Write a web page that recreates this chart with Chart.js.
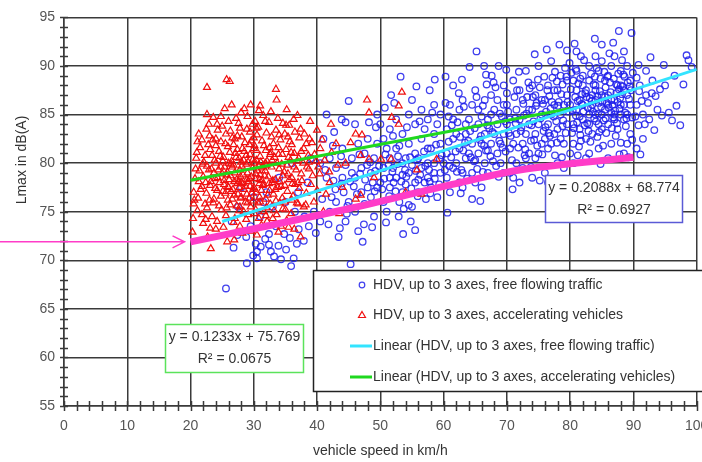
<!DOCTYPE html>
<html>
<head>
<meta charset="utf-8">
<script src="https://cdn.jsdelivr.net/npm/chart.js@4.4.0/dist/chart.umd.min.js"></script>
<style>
  html, body { margin: 0; padding: 0; background: #fff; }
  canvas { display: block; }
</style>
</head>
<body>
<canvas id="lmaxChart" width="702" height="462"></canvas>
<script>
// ---------------------------------------------------------------------------
// Data (speed km/h, Lmax dB(A))
// ---------------------------------------------------------------------------
const freeFlowLabel = 'HDV, up to 3 axes, free flowing traffic';
const accelLabel = 'HDV, up to 3 axes, accelerating vehicles';
const freeFlowTrendLabel = 'Linear (HDV, up to 3 axes, free flowing traffic)';
const accelTrendLabel = 'Linear (HDV, up to 3 axes, accelerating vehicles)';

const xTicksMajor = [0, 10, 20, 30, 40, 50, 60, 70, 80, 90, 100];
const yTicksMajor = [55, 60, 65, 70, 75, 80, 85, 90, 95];

// blue circles
const freeFlowPoints = [
  [25.6,67.1],[28.9,69.7],[30.5,70.2],[30.5,70.9],[31.1,71.4],[30.3,71.7],[28.8,72.4],[32.4,71.6],[32.7,70.9],
  [33.2,70.4],[35.1,71.1],[35.9,69.4],[36.8,71.7],[37.1,73.2],[34.8,72.7],[32.4,72.7],[29.5,73.5],[31.0,74.5],
  [33.0,75.5],[35.0,76.0],[37.0,77.0],[38.5,78.0],[34.0,78.5],[36.0,80.0],[30.0,76.5],[27.5,75.5],[32.0,77.0],
  [38.0,74.5],[39.5,75.0],[39.0,80.5],[36.5,75.0],[26.5,74.0],[28.0,77.5],[33.5,73.5],[31.5,76.0],
  [26.8,71.3],[27.4,72.6],[29.9,70.5],[31.8,72.2],[33.9,71.5],[35.7,72.3],[37.9,72.0],[38.7,73.5],[39.8,72.8],
  [36.3,70.2],[34.3,70.1],
  [43.4,72.4],[44.5,74.0],[44.7,74.8],[40.8,76.3],[42.3,76.5],[42.9,77.3],[44.2,77.0],[43.9,77.9],[45.3,69.6],
  [47.4,73.7],[45.0,86.4],[43.9,84.5],[44.5,84.2],[48.2,84.2],[49.3,83.7],[42.7,83.2],[41.5,78.5],
  [40.5,80.0],[42.0,80.5],[43.0,79.5],[44.0,81.5],[45.5,80.5],[46.0,78.5],[47.0,79.5],[48.0,77.5],[49.0,80.5],
  [46.5,82.0],[47.5,81.0],[48.5,79.0],[49.5,82.0],[41.0,82.5],[45.0,76.0],[46.0,75.0],[47.5,75.8],[48.5,76.5],
  [49.5,77.5],[40.5,74.0],[42.0,75.0],[43.0,76.0],[46.5,73.0],[49.0,74.5],[44.0,78.5],[45.5,79.0],[47.0,77.0],
  [48.0,82.5],[49.5,85.0],[41.5,85.0],[44.5,79.8],[42.5,81.8],[46.0,84.0],[48.8,78.0],
  [41.3,79.3],[42.6,78.2],[43.8,80.7],[45.2,78.1],[46.7,80.9],[47.9,79.8],[49.2,79.2],[46.3,76.8],[44.8,75.6],
  [43.6,73.3],[48.7,73.4],[41.8,73.7],[47.2,71.9],
  [45.8,77.6],[46.8,78.9],[47.6,78.3],[48.4,80.1],[49.1,77.1],[49.8,79.7],
  [51.7,87.0],[52.9,74.5],[54.8,74.0],[54.5,75.7],[57.2,76.3],[50.5,76.0],[51.5,77.5],[52.5,78.5],[53.5,77.0],
  [54.5,79.0],[55.5,78.0],[56.5,79.5],[57.5,78.5],[58.5,80.0],[59.5,79.0],[50.5,79.5],[51.5,80.5],[52.5,81.5],
  [53.5,80.0],[54.5,82.0],[55.5,81.0],[56.5,82.5],[57.5,81.5],[58.5,83.0],[59.5,82.0],[50.5,82.5],[51.5,83.5],
  [52.5,84.5],[53.5,83.0],[54.5,85.0],[55.5,84.0],[56.5,85.5],[57.5,84.5],[58.5,86.0],[59.5,85.0],[50.0,84.0],
  [55.0,86.5],[56.0,77.0],[58.0,77.5],[59.0,76.5],[51.0,75.0],[53.0,76.0],[55.0,75.5],[57.0,78.0],[52.0,79.5],
  [54.0,80.5],[56.0,80.5],[58.0,81.5],[53.0,81.8],[55.0,79.8],[57.0,83.5],[59.0,84.0],[50.0,78.0],[51.0,81.5],
  [52.0,82.8],[57.8,87.5],[60.3,86.2],[53.5,78.8],[56.0,78.3],[58.5,79.0],[54.0,77.8],[51.5,78.5],[57.5,80.0],
  [50.8,80.9],[51.9,79.1],[52.8,80.7],[53.9,79.3],[54.7,80.6],[55.8,80.3],[56.9,81.2],[57.7,79.3],[58.8,81.9],
  [59.7,80.8],[50.3,77.3],[51.4,76.6],[52.4,77.1],[53.7,75.3],[55.9,76.6],[57.9,76.9],[59.3,77.8],[50.9,73.9],
  [55.5,73.1],[53.6,72.7],[60.6,74.9],[52.2,86.2],[54.2,83.7],[56.2,84.3],[58.2,85.2],[60.8,84.8],[50.7,85.7],
  [53.2,88.9],[55.7,87.9],[58.6,88.6],
  [50.6,78.4],[51.3,79.8],[52.1,78.0],[52.7,79.9],[53.3,78.1],[54.1,78.6],[54.9,77.4],[55.6,79.2],[56.3,78.8],
  [57.1,79.7],[57.8,78.1],[58.6,78.4],[59.4,80.4],
  [62.4,87.2],[65.2,91.5],[66.4,90.0],[68.7,90.0],[66.7,89.1],[67.6,89.0],[66.8,88.1],[64.5,76.3],[60.5,78.5],
  [61.5,79.5],[62.5,78.0],[63.5,80.5],[64.5,79.0],[65.5,81.0],[66.5,80.0],[67.5,82.0],[68.5,81.0],[69.5,83.0],
  [60.5,81.0],[61.5,82.5],[62.5,81.5],[63.5,83.0],[64.5,82.0],[65.5,84.0],[66.5,83.0],[67.5,85.0],[68.5,84.0],
  [69.5,86.0],[60.5,83.5],[61.5,84.5],[62.5,85.5],[63.5,84.0],[64.5,86.0],[65.5,85.5],[66.5,86.5],[67.5,87.0],
  [68.5,86.5],[69.5,88.0],[61.0,77.0],[63.0,77.5],[65.0,78.0],[67.0,79.0],[69.0,80.0],[62.0,80.0],[64.0,81.0],
  [66.0,82.0],[68.0,83.0],[70.0,84.0],[61.0,86.0],[63.0,86.5],[65.0,87.5],[67.0,84.5],[69.0,82.0],[60.0,80.0],
  [62.0,83.0],[64.0,84.5],[66.0,84.8],[68.0,85.5],[69.5,79.0],[63.0,79.0],[65.0,80.3],[67.0,81.3],[61.5,88.0],
  [66.0,77.5],
  [60.9,79.7],[61.9,81.2],[62.8,79.3],[63.9,82.3],[64.8,80.2],[65.9,82.8],[66.7,81.3],[67.8,80.2],[68.8,82.3],
  [69.8,81.2],[60.8,82.2],[62.2,84.2],[63.2,85.8],[64.2,83.3],[65.2,86.8],[66.2,85.9],[67.2,83.6],[68.2,87.8],
  [69.2,84.8],[67.9,88.3],[69.9,89.6],[62.9,88.6],[64.1,89.9],[60.3,88.9],[63.7,78.4],[68.7,78.6],[66.2,79.1],
  [62.7,76.9],[65.8,76.1],
  [60.2,79.3],[61.2,80.6],[62.1,79.1],[63.1,81.3],[64.3,80.6],[65.3,79.4],[66.4,81.8],[67.4,80.7],[68.3,79.7],
  [69.3,81.6],[62.6,82.7],[64.9,83.6],[66.9,83.9],[68.9,85.1],[61.3,83.9],[63.4,82.1],[65.7,82.4],[67.7,83.2],
  [69.7,84.3],
  [71.6,87.5],[70.0,87.2],[79.5,91.6],[78.7,80.6],[70.5,81.5],[71.5,83.0],[72.5,82.0],[73.5,84.0],[74.5,83.0],
  [75.5,85.0],[76.5,84.0],[77.5,86.0],[78.5,85.0],[79.5,87.0],[70.5,84.5],[71.5,85.5],[72.5,86.5],[73.5,85.5],
  [74.5,87.0],[75.5,86.5],[76.5,88.0],[77.5,87.5],[78.5,89.0],[79.5,88.5],[70.5,79.0],[71.5,80.0],[72.5,79.5],
  [73.5,81.0],[74.5,80.5],[75.5,82.0],[76.5,81.5],[77.5,83.0],[78.5,82.5],[79.5,84.0],[71.0,88.5],[73.0,89.5],
  [75.0,90.0],[77.0,90.5],[72.0,78.0],[74.0,78.5],[76.0,79.0],[78.0,80.0],[80.0,81.0],[71.0,82.0],[73.0,83.0],
  [75.0,84.0],[77.0,85.0],[79.0,86.0],[72.0,84.5],[74.0,85.5],[76.0,86.5],[78.0,87.5],[70.0,86.0],[72.0,87.5],
  [74.0,88.0],[76.0,82.5],[78.0,83.5],[79.0,82.0],[77.0,82.0],[75.0,81.0],[73.0,80.5],[71.0,78.5],[76.5,78.0],
  [79.0,79.5],
  [70.8,80.3],[71.8,81.6],[72.8,80.8],[73.8,82.3],[74.8,81.8],[75.8,83.3],[76.8,82.8],[77.8,84.3],[78.8,83.8],
  [79.8,85.3],[70.2,85.3],[71.2,86.8],[72.2,83.3],[73.2,86.8],[74.2,84.3],[75.2,87.8],[76.2,85.3],[77.2,88.8],
  [78.2,86.3],[79.2,89.8],[70.6,82.8],[72.7,84.9],[74.7,86.2],[76.7,86.9],[78.8,88.1],[71.9,89.4],[73.6,87.7],
  [75.9,88.9],[77.6,89.4],[79.9,90.3],[74.4,91.2],[76.3,91.7],[78.3,92.2],[73.8,79.6],[77.6,80.8],[70.9,77.3],
  [75.2,78.2],
  [70.3,83.1],[71.3,84.6],[72.3,83.7],[73.1,85.1],[73.9,83.9],[74.6,85.9],[75.3,84.6],[76.1,83.7],[76.9,85.6],
  [77.4,84.8],[78.1,85.9],[78.9,84.4],[79.6,86.3],[72.6,86.1],[73.4,88.3],[74.1,86.8],[74.9,88.6],[75.7,86.1],
  [76.4,87.5],[77.1,86.3],[77.9,88.4],[78.6,87.1],[79.4,88.9],[71.4,84.1],[72.9,81.4],[74.3,82.4],[75.6,80.9],
  [76.6,83.1],[77.9,82.1],[79.3,83.1],
  [85.0,92.2],[81.7,91.0],[87.7,93.6],[89.7,93.4],[90.8,90.1],[81.7,82.3],[88.0,82.1],[80.5,84.0],[81.0,85.5],
  [81.5,86.5],[82.0,84.5],[82.5,87.5],[83.0,85.0],[83.5,86.0],[84.0,88.0],[84.5,84.0],[85.0,87.0],[85.5,85.5],
  [86.0,89.0],[86.5,86.5],[87.0,84.5],[87.5,88.0],[88.0,86.0],[88.5,87.5],[89.0,85.0],[89.5,88.5],[80.5,88.5],
  [81.0,87.5],[81.5,83.5],[82.0,89.0],[82.5,82.5],[83.0,88.5],[83.5,83.0],[84.0,86.5],[84.5,89.5],[85.0,83.5],
  [85.5,88.5],[86.0,84.0],[86.5,90.0],[87.0,86.5],[87.5,83.5],[88.0,89.5],[88.5,84.5],[89.0,87.0],[89.5,83.0],
  [80.0,86.0],[81.0,89.5],[82.0,86.0],[83.0,90.0],[84.0,85.0],[85.0,90.5],[86.0,87.0],[87.0,91.0],[88.0,88.0],
  [89.0,90.0],[80.5,82.0],[82.5,80.5],[84.5,81.5],[86.5,82.0],[88.5,81.0],[83.0,84.0],[85.0,85.0],[87.0,85.0],
  [84.0,87.5],[86.0,86.0],[88.0,85.0],[82.0,88.0],[83.5,87.0],[85.5,86.8],[87.5,86.3],[89.5,86.0],[81.5,84.8],
  [84.5,86.2],[86.5,85.2],[88.5,86.0],[80.5,80.0],[83.0,81.0],[86.0,80.5],[89.0,82.0],[81.0,91.5],[84.0,91.0],
  [88.5,91.5],
  [80.3,83.1],[80.9,84.9],[81.3,88.2],[81.8,86.1],[82.3,83.9],[82.8,85.7],[83.3,89.2],[83.8,84.6],[84.3,86.9],
  [84.8,88.7],[85.3,84.4],[85.8,86.2],[86.3,88.3],[86.8,84.7],[87.3,87.2],[87.8,85.6],[88.3,87.9],[88.8,83.8],
  [89.3,86.6],[89.8,84.7],[80.8,86.8],[81.6,82.9],[82.6,86.8],[83.6,85.3],[84.6,83.2],[85.6,87.8],[86.6,83.6],
  [87.6,89.2],[88.6,88.9],[89.6,87.5],[80.2,89.3],[82.2,90.6],[84.2,89.8],[86.2,91.3],[88.2,90.6],[83.2,82.2],
  [85.2,81.8],[87.2,82.8],[81.2,80.8],[84.8,79.9],[87.8,80.9],[89.2,80.6],[86.8,92.4],[83.9,92.8],[80.7,92.3],
  [80.4,85.4],[81.1,84.2],[81.9,87.1],[82.7,84.1],[83.4,86.4],[84.1,84.3],[84.9,85.8],[85.6,84.6],[86.4,87.3],
  [87.1,85.4],[87.9,86.7],[88.7,85.2],[89.4,87.9],[80.1,87.6],[80.9,89.7],[81.6,88.7],[82.4,87.2],[83.1,86.7],
  [83.9,88.9],[84.7,87.4],[85.4,89.4],[86.1,85.7],[86.9,88.7],[87.7,87.6],[88.4,89.1],[89.1,88.3],[89.9,89.3],
  [80.6,83.6],[81.4,81.7],[82.9,83.3],[84.3,82.7],[85.7,83.1],[87.4,84.1],[88.9,84.6],[89.8,82.4],[85.1,86.3],
  [83.3,85.7],[81.2,86.4],[86.7,86.0],[88.2,87.1],[84.4,85.1],[82.1,85.3],[87.3,88.1],[85.9,88.9],[83.7,88.1],
  [98.4,91.1],[98.7,90.6],[97.9,88.1],[94.8,90.1],[95.6,85.2],[96.1,84.4],[94.5,84.9],[91.3,86.4],[92.9,87.2],
  [93.5,86.9],[90.8,83.9],[90.5,86.0],[91.0,88.0],[91.5,85.0],[92.0,89.5],[92.5,84.5],[93.0,88.5],[91.5,82.5],
  [90.5,81.5],[95.0,88.0],[96.5,89.0],[92.0,87.0],[90.5,88.8],[93.8,85.5],[90.3,84.8],[91.8,84.0],[92.3,86.2],
  [93.3,83.4],[90.9,87.4],[94.2,87.6],[96.8,85.9],[97.4,83.9],[99.2,89.9],[92.7,90.9],[91.1,80.9]
];

// red triangles
const accelPoints = [
  [25.7,88.6],[26.2,88.4],[22.6,87.8],[33.5,87.6],[33.6,86.5],[26.5,86.0],[29.5,86.0],[35.2,85.5],[30.8,85.4],
  [28.0,85.2],[22.6,85.0],[22.9,84.0],[24.2,84.0],[35.1,83.9],[37.4,83.5],[40.0,83.4],[42.2,84.0],[21.3,83.0],
  [25.6,83.0],[39.2,82.1],[42.3,81.1],[38.7,80.1],[21.0,81.1],[20.8,79.4],
  [27.2,84.6],[29.0,84.8],[30.2,84.3],[31.5,84.9],[32.4,84.2],[33.8,84.6],[36.3,84.5],[28.5,85.6],[31.0,85.9],
  [26.0,84.3],
  [21.8,82.4],[23.0,82.8],[24.8,82.2],[26.3,83.3],[27.0,82.5],[27.8,83.6],[28.6,82.1],[29.4,83.2],[30.0,82.6],
  [30.7,83.7],[31.3,82.3],[32.0,83.1],[32.8,82.7],[33.5,83.4],[34.2,82.4],[34.9,83.0],[35.7,82.2],[36.5,83.2],
  [37.2,82.6],[38.0,83.0],[38.8,82.5],[22.5,83.5],[25.5,82.0],[29.8,84.0],[24.0,82.5],
  [20.9,80.5],[21.5,81.6],[22.3,80.8],[23.1,81.4],[23.8,80.3],[24.5,81.2],[25.2,80.6],[25.9,81.7],[26.5,80.2],
  [27.1,81.0],[27.7,80.5],[28.2,81.5],[28.8,80.8],[29.3,81.9],[29.9,80.4],[30.4,81.3],[31.0,80.7],[31.6,81.8],
  [32.1,80.2],[32.7,81.1],[33.3,80.6],[33.9,81.6],[34.5,80.9],[35.1,81.4],[35.8,80.3],[36.4,81.0],[37.1,80.5],
  [37.9,81.5],[38.6,80.8],[39.6,80.9],[40.5,81.5],[41.2,80.3],[26.8,81.9],[28.0,80.1],[30.0,81.5],[31.8,80.0],
  [24.0,81.8],
  [20.7,78.4],[21.4,79.2],[22.0,78.6],[22.6,79.7],[23.2,78.1],[23.7,79.0],[24.3,78.5],[24.8,79.6],[25.3,78.2],
  [25.8,79.1],[26.3,78.7],[26.8,79.8],[27.3,78.3],[27.8,79.3],[28.3,78.8],[28.8,79.9],[29.3,78.4],[29.8,79.5],
  [30.3,78.9],[30.8,79.7],[31.3,78.2],[31.8,79.2],[32.3,78.6],[32.8,79.6],[33.4,78.3],[34.0,79.4],[34.6,78.7],
  [35.3,79.8],[36.0,78.5],[36.7,79.3],[37.5,78.9],[38.4,79.6],[39.3,78.7],[41.9,79.1],[38.7,79.4],[26.0,80.0],
  [28.0,78.0],[30.0,80.0],[24.0,80.0],[27.0,79.0],[29.0,79.0],[31.0,78.8],[25.0,78.9],
  [20.5,77.0],[21.2,76.4],[21.8,77.6],[22.5,76.9],[23.1,77.7],[23.7,76.3],[24.2,77.2],[24.8,76.6],[25.3,77.8],
  [25.9,76.2],[26.4,77.1],[26.9,76.7],[27.4,77.9],[27.9,76.4],[28.4,77.3],[28.9,76.8],[29.4,77.6],[29.9,76.1],
  [30.4,77.0],[30.9,76.5],[31.4,77.7],[31.9,76.3],[32.5,77.2],[33.1,76.8],[33.8,77.5],[34.5,76.4],[35.3,77.1],
  [36.2,76.6],[37.2,77.4],[38.3,76.9],[46.9,76.7],[46.1,76.3],[26.0,77.5],[28.0,76.5],[30.0,77.5],
  [20.5,75.8],[21.8,74.7],[22.6,75.4],[23.4,74.5],[24.2,74.0],[24.9,75.2],[25.6,74.6],[26.3,75.7],[27.0,74.3],
  [27.7,75.1],[28.8,74.2],[29.5,75.5],[30.8,74.3],[31.6,75.0],[32.6,75.8],[33.6,74.7],[34.6,75.3],[37.9,75.5],
  [38.2,75.7],
  [26.9,72.1],[23.2,71.2],[37.4,72.4],[24.0,73.2],[27.8,73.5],[29.6,73.0],[31.2,73.6],[35.5,73.4],[22.0,73.8],
  [24.4,79.3],[25.1,80.2],[25.7,78.8],[26.2,81.1],[26.6,79.6],[27.2,80.6],[27.6,78.1],[28.1,79.7],[28.5,81.2],
  [29.1,80.1],[29.6,78.6],[30.1,81.8],[30.6,79.2],[31.1,80.1],[31.5,77.8],[32.0,79.8],[32.6,80.9],[33.0,78.2],
  [33.7,80.0],[34.3,77.6],[34.8,79.1],[35.5,80.6],[36.1,77.9],[36.9,80.2],[23.3,79.4],[23.9,77.4],[24.6,78.0],
  [25.5,76.9],[26.1,78.3],[26.7,77.3],[27.5,76.8],[28.2,77.9],[28.7,76.0],[29.2,78.1],[29.7,76.9],[30.2,78.4],
  [30.7,75.9],[31.2,77.2],[31.7,78.7],[32.2,76.7],[32.9,78.0],[33.5,76.1],[34.1,78.1],[34.9,76.0],[35.6,78.3],
  [36.5,77.8],[37.6,78.2],[27.3,75.6],[28.4,75.0],[29.0,75.9],[30.3,75.2],[31.9,74.6],[33.2,75.1],[35.9,74.8],
  [26.8,73.9],[25.2,73.4],[28.2,72.8],[30.5,72.6],[33.9,72.9],[35.2,74.1],[36.8,75.9],
  [22.1,80.1],[22.8,81.9],[23.5,82.4],[24.3,83.4],[25.0,83.8],[27.4,82.8],[28.9,83.5],[30.5,82.9],[31.8,84.3],
  [32.5,81.6],[34.0,82.9],[35.4,82.7],[36.0,81.9],[37.5,81.2],[38.3,82.0],[39.9,80.2],[40.8,82.4],[23.6,84.7],
  [27.6,84.1],[29.6,82.3],[34.6,84.1],[36.9,84.9],[32.7,85.3],[25.4,85.6],[38.9,84.3],[21.6,77.3],[22.3,75.8],
  [23.0,76.2],[21.1,82.2],[20.6,76.2],[39.0,77.8],[40.4,78.9],[41.4,76.8],[43.3,79.8],[40.2,79.6],[20.3,72.9],
  [22.7,72.4],[25.8,71.9],[32.1,74.0],[34.3,73.5],[36.4,73.2],
  [24.7,80.7],[25.4,79.6],[25.9,77.6],[26.4,79.9],[26.9,78.1],[27.4,81.4],[27.9,78.6],[28.4,80.3],[28.9,78.3],
  [29.4,80.9],[29.9,77.3],[30.4,80.3],[30.9,78.3],[31.4,79.6],[31.9,81.3],[32.4,77.9],[32.9,80.3],[33.4,77.3],
  [33.9,80.9],[34.4,79.9],[34.9,77.7],[35.4,78.9],[35.9,81.1],[36.4,79.6],[37.0,78.0],[37.8,80.0],[23.4,80.8],
  [23.9,78.4],[22.4,78.0],[22.9,79.3],[21.9,79.9],[21.3,78.1],[23.6,75.9],[24.5,75.6],[25.7,75.4],[26.6,76.3],
  [27.8,75.5],[28.7,77.6],[29.3,76.4],[30.1,74.8],[31.0,76.0],[32.0,75.4],[33.0,74.3],[34.1,75.9],[35.0,75.2],
  [36.0,76.2],[37.0,75.8],[22.4,74.2],[23.1,73.3],[21.1,75.1],[20.4,74.3],[29.1,74.7],[30.9,77.9],[28.1,82.7],
  [26.6,82.6],[24.8,84.8],[30.4,83.6],[33.1,82.0],[35.6,83.9],[31.2,79.5],[27.7,77.5],[25.1,77.1],
  [53.4,87.3],[47.9,86.5],[52.9,85.9],[48.2,85.2],[51.8,84.7],[52.9,84.0],[46.1,83.0],[47.1,82.9],[45.3,82.1],
  [46.9,80.8],[48.2,80.4],[50.1,80.4],[51.7,80.4],[55.8,79.3],[58.9,80.4],[43.0,82.0],[44.5,80.0],[42.0,78.0],
  [40.0,77.2],[44.0,77.5],[49.0,78.5],[54.0,77.0],[56.5,76.8],[41.0,75.0],[43.5,74.8],[39.5,76.0]
];

// trend line end points (Excel linear fits shown in the boxes)
const freeFlowTrend = [[25, 73.99], [100, 89.65]];
const accelTrend = [[20, 78.24], [80, 85.63]];

// hand drawn magenta limit line
const limitLine = [[20, 71.9], [45, 75.3], [60, 77.6], [72, 79.3], [90, 80.6]];

const freeFlowEq = ['y = 0.2088x + 68.774', 'R\u00B2 = 0.6927'];
const accelEq = ['y = 0.1233x + 75.769', 'R\u00B2 = 0.0675'];

// ---------------------------------------------------------------------------
const toXY = arr => arr.map(p => ({ x: p[0], y: p[1] }));

const BLUE = 'rgba(30,30,235,0.85)';
const RED = '#f01010';
const CYAN = '#33e4ff';
const GREEN = '#1fd81f';
const MAGENTA = '#ff3cc8';
const GRID = '#3a3a3a';
const FONT = "'Liberation Sans', Arial, sans-serif";

// legend, equation boxes, arrow, crossing ticks
const decorations = {
  id: 'decorations',
  afterDraw(chart) {
    const ctx = chart.ctx;
    const xs = chart.scales.x;
    const ys = chart.scales.y;
    const area = chart.chartArea;

    ctx.save();
    // crossing tick marks on the axes
    ctx.strokeStyle = GRID;
    ctx.lineWidth = 1.5;
    ctx.beginPath();
    for (let v = 55; v <= 95; v += 1) {
      const py = Math.round(ys.getPixelForValue(v)) + 0.5;
      ctx.moveTo(area.left - 4, py);
      ctx.lineTo(area.left + 4, py);
    }
    for (let v = 0; v <= 100; v += 2) {
      const px = Math.round(xs.getPixelForValue(v)) + 0.5;
      ctx.moveTo(px, area.bottom - 5);
      ctx.lineTo(px, area.bottom + 5);
    }
    ctx.stroke();

    // y axis title
    ctx.fillStyle = '#333';
    ctx.font = '14px ' + FONT;
    ctx.textAlign = 'center';
    ctx.textBaseline = 'middle';
    ctx.save();
    ctx.translate(22, 160);
    ctx.rotate(-Math.PI / 2);
    ctx.fillText('Lmax in dB(A)', 0, 0);
    ctx.restore();

    // magenta arrow pointing at the start of the limit line
    const ay = ys.getPixelForValue(limitLine[0][1]);
    const tipX = xs.getPixelForValue(limitLine[0][0]) - 6;
    ctx.strokeStyle = MAGENTA;
    ctx.lineWidth = 1.5;
    ctx.beginPath();
    ctx.moveTo(0, ay);
    ctx.lineTo(tipX, ay);
    ctx.moveTo(tipX - 12, ay - 6);
    ctx.lineTo(tipX, ay);
    ctx.lineTo(tipX - 12, ay + 6);
    ctx.stroke();

    // equation boxes
    function eqBox(x, y, w, h, border, lines) {
      ctx.fillStyle = '#fff';
      ctx.fillRect(x, y, w, h);
      ctx.strokeStyle = border;
      ctx.lineWidth = 1.5;
      ctx.strokeRect(x, y, w, h);
      ctx.fillStyle = '#333';
      ctx.font = '14px ' + FONT;
      ctx.textAlign = 'center';
      ctx.textBaseline = 'middle';
      ctx.fillText(lines[0], x + w / 2, y + 13);
      ctx.fillText(lines[1], x + w / 2, y + 35);
    }
    eqBox(545.5, 175.5, 137, 47, '#5a5ad6', freeFlowEq);
    eqBox(165.5, 324.5, 138, 48, '#5be35b', accelEq);

    // legend box
    ctx.fillStyle = '#fff';
    ctx.fillRect(313.5, 270.5, 400, 121);
    ctx.strokeStyle = '#222';
    ctx.lineWidth = 1.5;
    ctx.strokeRect(313.5, 270.5, 400, 121);

    const rows = [285, 315, 346, 377];
    const textX = 373;
    // circle marker
    ctx.strokeStyle = BLUE;
    ctx.lineWidth = 1.2;
    ctx.beginPath();
    ctx.arc(362, rows[0], 2.8, 0, Math.PI * 2);
    ctx.stroke();
    // triangle marker
    ctx.strokeStyle = RED;
    ctx.beginPath();
    ctx.moveTo(362, rows[1] - 3.5);
    ctx.lineTo(365.5, rows[1] + 2.5);
    ctx.lineTo(358.5, rows[1] + 2.5);
    ctx.closePath();
    ctx.stroke();
    // line samples
    ctx.lineWidth = 3;
    ctx.strokeStyle = CYAN;
    ctx.beginPath(); ctx.moveTo(350, rows[2]); ctx.lineTo(372, rows[2]); ctx.stroke();
    ctx.strokeStyle = GREEN;
    ctx.beginPath(); ctx.moveTo(350, rows[3]); ctx.lineTo(372, rows[3]); ctx.stroke();

    ctx.font = '14px ' + FONT;
    ctx.textAlign = 'left';
    ctx.textBaseline = 'middle';
    ctx.fillStyle = '#333';
    ctx.fillText(freeFlowLabel, textX, rows[0]);
    ctx.fillText(accelLabel, textX, rows[1]);
    ctx.fillText(freeFlowTrendLabel, textX, rows[2]);
    ctx.fillText(accelTrendLabel, textX, rows[3]);
    ctx.restore();
  }
};

new Chart(document.getElementById('lmaxChart').getContext('2d'), {
  type: 'scatter',
  data: {
    datasets: [
      {
        label: 'limit',
        type: 'line',
        data: toXY(limitLine),
        borderColor: MAGENTA,
        borderWidth: 7,
        pointRadius: 0,
        tension: 0.3,
        order: 0
      },
      {
        label: freeFlowTrendLabel,
        type: 'line',
        data: toXY(freeFlowTrend),
        borderColor: CYAN,
        borderWidth: 3,
        pointRadius: 0,
        order: 0
      },
      {
        label: accelTrendLabel,
        type: 'line',
        data: toXY(accelTrend),
        borderColor: GREEN,
        borderWidth: 3,
        pointRadius: 0,
        order: 0
      },
      {
        label: accelLabel,
        data: toXY(accelPoints),
        pointStyle: 'triangle',
        pointRadius: 4,
        borderWidth: 1.2,
        borderColor: RED,
        backgroundColor: 'transparent',
        order: 1
      },
      {
        label: freeFlowLabel,
        data: toXY(freeFlowPoints),
        pointStyle: 'circle',
        pointRadius: 3.3,
        borderWidth: 1.3,
        borderColor: BLUE,
        backgroundColor: 'transparent',
        order: 2
      }
    ]
  },
  options: {
    responsive: false,
    animation: false,
    devicePixelRatio: 1,
    layout: { padding: { top: 14, right: 5, left: 0, bottom: 0 } },
    plugins: {
      legend: { display: false },
      tooltip: { enabled: false }
    },
    scales: {
      x: {
        type: 'linear',
        min: 0,
        max: 100,
        afterFit(scale) { scale.height = 56; scale.paddingRight = 0; },
        ticks: {
          stepSize: 2,
          autoSkip: false,
          maxRotation: 0,
          padding: 12,
          color: '#555',
          font: { family: FONT, size: 14 },
          callback: v => (xTicksMajor.includes(v) ? String(v) : '')
        },
        grid: {
          drawTicks: false,
          lineWidth: 1.5,
          color: c => (c.tick && xTicksMajor.includes(c.tick.value) ? GRID : 'transparent')
        },
        border: { color: GRID, width: 1.5 },
        title: {
          display: true,
          text: 'vehicle speed in km/h',
          color: '#333',
          font: { family: FONT, size: 14 },
          padding: { top: 0, bottom: 2 }
        }
      },
      y: {
        type: 'linear',
        min: 55,
        max: 95,
        afterFit(scale) { scale.width = 64; },
        ticks: {
          stepSize: 1,
          autoSkip: false,
          padding: 9,
          color: '#555',
          font: { family: FONT, size: 14 },
          callback: v => (yTicksMajor.includes(v) ? String(v) : '')
        },
        grid: {
          drawTicks: false,
          lineWidth: 1.5,
          color: c => (c.tick && yTicksMajor.includes(c.tick.value) ? GRID : 'transparent')
        },
        border: { color: GRID, width: 1.5 }
      }
    }
  },
  plugins: [decorations]
});
</script>
</body>
</html>
